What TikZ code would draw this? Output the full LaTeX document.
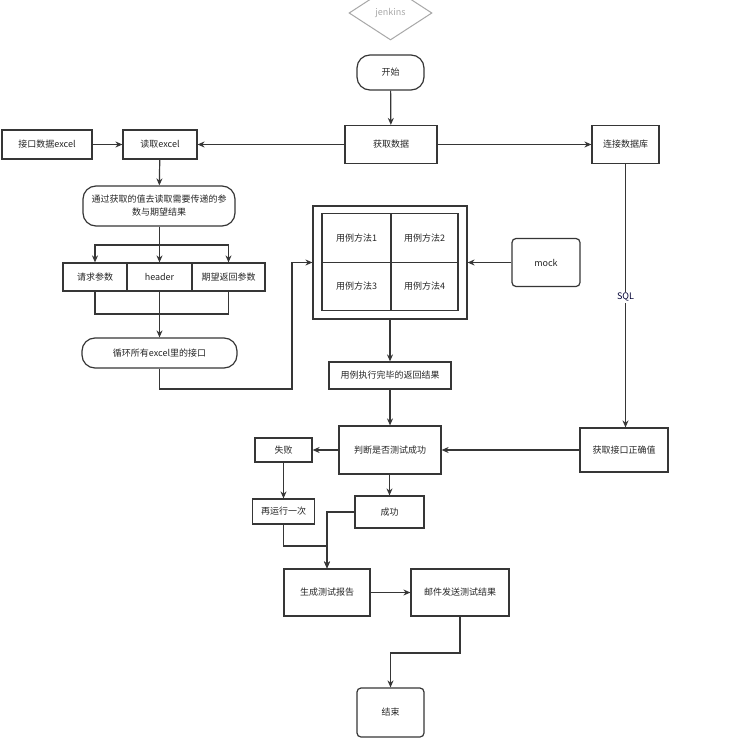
\documentclass[tikz,border=0pt]{standalone}
\usepackage{fontspec}
\setmainfont{Noto Sans CJK SC}
\usetikzlibrary{shapes.geometric,arrows.meta}
\definecolor{linec}{HTML}{363636}
\definecolor{greyc}{HTML}{A8A8A8}
\begin{document}
\begin{tikzpicture}[x=1pt,y=-1pt,
        box/.style={draw=linec,line width=1.2pt,inner sep=0pt,align=center,
            font=\fontsize{9}{13}\selectfont,text=black!85},
        pill/.style={box,rounded corners=13pt},
        rbox/.style={box,rounded corners=4pt},
        arr/.style={draw=linec,line width=1.2pt,-{Stealth[length=7pt,width=6pt]}},
        wire/.style={draw=linec,line width=1.2pt},
        sqllabel/.style={fill=white,inner sep=1pt,font=\fontsize{9}{11}\selectfont,text=black!80!blue}]
    \useasboundingbox (0,0) rectangle (736,741);
    \fill[white] (0,0) rectangle (736,741);
    \node[diamond,draw=greyc,line width=1pt,inner sep=0pt,minimum width=83pt,minimum height=54pt,
        text=greyc,font=\fontsize{9}{11}\selectfont] (jenkins) at (390.5,13) {jenkins};
    \node[pill,minimum width=67pt,minimum height=35pt] (start) at (390.5,72.5) {开始};
    \node[box,minimum width=92pt,minimum height=38pt] (getdata) at (391,144.5) {获取数据};
    \node[box,minimum width=90pt,minimum height=29pt] (excelsrc) at (47,144.5) {接口数据excel};
    \node[box,minimum width=74pt,minimum height=29pt] (readx) at (160,144.5) {读取excel};
    \node[box,minimum width=67pt,minimum height=38pt] (conndb) at (625.5,144.5) {连接数据库};
    \node[pill,minimum width=152pt,minimum height=40pt,text width=142pt] (parse) at (159,206) {通过获取的值去读取需要传递的参\\数与期望结果};
    \node[box,minimum width=64pt,minimum height=28pt] (req) at (95,277) {请求参数};
    \node[box,minimum width=65pt,minimum height=28pt] (hdr) at (159.5,277) {header};
    \node[box,minimum width=73pt,minimum height=28pt] (exp) at (228.5,277) {期望返回参数};
    \node[pill,minimum width=155pt,minimum height=30pt] (loop) at (159.5,353) {循环所有excel里的接口};
    \node[box,minimum width=154pt,minimum height=113pt] (outer) at (390,262.5) {};
    \node[box,minimum width=69pt,minimum height=48.5pt] (case1) at (356.5,238) {用例方法1};
    \node[box,minimum width=67pt,minimum height=48.5pt] (case2) at (424.5,238) {用例方法2};
    \node[box,minimum width=69pt,minimum height=48.5pt] (case3) at (356.5,286.5) {用例方法3};
    \node[box,minimum width=67pt,minimum height=48.5pt] (case4) at (424.5,286.5) {用例方法4};
    \node[rbox,minimum width=68pt,minimum height=48pt] (mock) at (546,262.5) {mock};
    \node[box,minimum width=122pt,minimum height=27pt] (result) at (390,375.5) {用例执行完毕的返回结果};
    \node[box,minimum width=102pt,minimum height=48pt] (judge) at (390,450) {判断是否测试成功};
    \node[box,minimum width=88pt,minimum height=44pt] (truth) at (624,450) {获取接口正确值};
    \node[box,minimum width=57pt,minimum height=24pt] (fail) at (283.5,450) {失败};
    \node[box,minimum width=62pt,minimum height=25pt] (retry) at (283.5,511.5) {再运行一次};
    \node[box,minimum width=69pt,minimum height=32pt] (ok) at (389.5,512) {成功};
    \node[box,minimum width=86pt,minimum height=47pt] (report) at (327,592.5) {生成测试报告};
    \node[box,minimum width=98pt,minimum height=47pt] (mail) at (460,592.5) {邮件发送测试结果};
    \node[rbox,minimum width=67pt,minimum height=49pt] (end) at (390.5,712.5) {结束};
    \coordinate (split) at (159.5,245);
    \coordinate (join) at (159.5,314);
    \coordinate (loopout) at (292,389);
    \coordinate (merge) at (327,546);
    \coordinate (mailout) at (390.5,653);
    \draw[arr] (start) -- (getdata);
    \draw[arr] (getdata) -- (readx);
    \draw[arr] (getdata) -- (conndb);
    \draw[arr] (excelsrc) -- (readx);
    \draw[arr] (readx) -- (parse);
    \draw[arr] (parse.south -| hdr.north) -- (hdr.north);
    \draw[arr] (split) -| (req.north);
    \draw[arr] (split) -| (exp.north);
    \draw[wire] (req.south) |- (join) -| (exp.south);
    \draw[arr] (hdr.south) -- (loop.north);
    \draw[arr] (loop.south) |- (loopout) |- (outer.west);
    \draw[arr] (mock.west) -- (mock.west -| outer.east);
    \draw[arr] (outer) -- (result);
    \draw[arr] (result) -- (judge);
    \draw[arr] (conndb.south) -- node[sqllabel,pos=0.506] (sql) {SQL} (conndb.south |- truth.north);
    \draw[arr] (truth) -- (judge);
    \draw[arr] (judge) -- (fail);
    \draw[arr] (judge.south -| ok.north) -- (ok.north);
    \draw[arr] (fail) -- (retry);
    \draw[arr] (retry.south) |- (merge) -- (report.north);
    \draw[arr] (ok.west) -| (report.north);
    \draw[arr] (report) -- (mail);
    \draw[arr] (mail.south) |- (mailout) -- (end.north);
\end{tikzpicture}
\end{document}
